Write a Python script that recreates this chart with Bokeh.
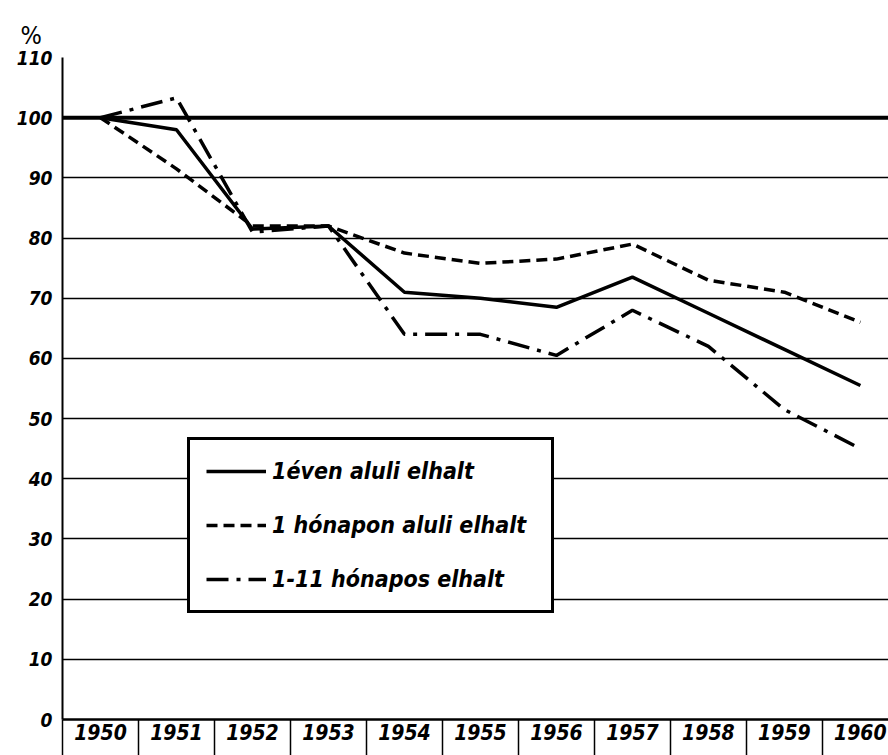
from bokeh.plotting import figure
from bokeh.models import FixedTicker, Span, Legend, LegendItem, Range1d
from bokeh.embed import file_html
from bokeh.resources import INLINE

years = [1950, 1951, 1952, 1953, 1954, 1955, 1956, 1957, 1958, 1959, 1960]
infant_1yr = [100, 98, 81.5, 82, 71, 70, 68.5, 73.5, 67.5, 61.5, 55.5]
neonatal_1mo = [100, 91.5, 82, 82, 77.5, 75.8, 76.5, 79, 73, 71, 66]
postneo_1_11 = [100, 103.3, 81, 82, 64, 64, 60.5, 68, 62, 51.5, 45]
y_ticks = [0, 10, 20, 30, 40, 50, 60, 70, 80, 90, 100, 110]
legend_labels = ["1éven aluli elhalt", "1 hónapon aluli elhalt", "1-11 hónapos elhalt"]

FONT = "DejaVu Sans Condensed, Roboto"

p = figure(width=888, height=755, output_backend="svg", toolbar_location=None,
           x_range=Range1d(1949.5, 1960.37), y_range=Range1d(0, 110),
           min_border_left=62, min_border_top=57, min_border_bottom=36, min_border_right=0)
p.outline_line_color = None
p.background_fill_color = "white"

p.title.text = "%"
p.title.align = "left"
p.title.offset = -42
p.title.text_font = FONT
p.title.text_font_style = "normal"
p.title.text_font_size = "25px"
p.title.text_color = "black"
p.title.standoff = 16

# x axis with year boxes
p.xaxis.ticker = FixedTicker(ticks=years, minor_ticks=[y - 0.5 for y in years] + [1960.5])
p.xaxis.major_tick_out = 0
p.xaxis.major_tick_in = 0
p.xaxis.minor_tick_out = 36
p.xaxis.minor_tick_in = 0
p.xaxis.minor_tick_line_color = "black"
p.xaxis.minor_tick_line_width = 1.5
p.xaxis.axis_line_width = 2.5
p.xaxis.axis_line_color = "black"
p.xaxis.major_label_text_font = FONT
p.xaxis.major_label_text_font_style = "bold italic"
p.xaxis.major_label_text_font_size = "21px"
p.xaxis.major_label_text_color = "black"
p.xaxis.major_label_standoff = -32

p.yaxis.ticker = FixedTicker(ticks=y_ticks)
p.yaxis.major_tick_out = 0
p.yaxis.major_tick_in = 0
p.yaxis.minor_tick_line_color = None
p.yaxis.axis_line_width = 2
p.yaxis.axis_line_color = "black"
p.yaxis.major_label_text_font = FONT
p.yaxis.major_label_text_font_style = "bold italic"
p.yaxis.major_label_text_font_size = "19px"
p.yaxis.major_label_text_color = "black"
p.yaxis.major_label_standoff = 10

p.xgrid.grid_line_color = None
p.ygrid.ticker = FixedTicker(ticks=y_ticks)
p.ygrid.grid_line_color = "black"
p.ygrid.grid_line_width = 1.5
p.ygrid.grid_line_alpha = 1.0

p.add_layout(Span(location=100, dimension="width", line_color="black", line_width=4))

r1 = p.line(years, infant_1yr, line_color="black", line_width=3.5)
r2 = p.line(years, neonatal_1mo, line_color="black", line_width=3.5, line_dash="11 6")
r3 = p.line(years, postneo_1_11, line_color="black", line_width=3.5, line_dash="22 8 4 8")

legend = Legend(items=[LegendItem(label=legend_labels[0], renderers=[r1]),
                       LegendItem(label=legend_labels[1], renderers=[r2]),
                       LegendItem(label=legend_labels[2], renderers=[r3])],
                location=(125, 106))
legend.border_line_color = "black"
legend.border_line_alpha = 1.0
legend.border_line_width = 3
legend.background_fill_color = "white"
legend.background_fill_alpha = 1.0
legend.label_text_font = FONT
legend.label_text_font_style = "bold italic"
legend.label_text_font_size = "23px"
legend.label_text_color = "black"
legend.glyph_width = 60
legend.glyph_height = 30
legend.label_height = 30
legend.spacing = 24
legend.padding = 16
legend.label_standoff = 6
legend.label_width = 263
p.add_layout(legend, "center")

open("out.html", "w").write(file_html(p, INLINE))
